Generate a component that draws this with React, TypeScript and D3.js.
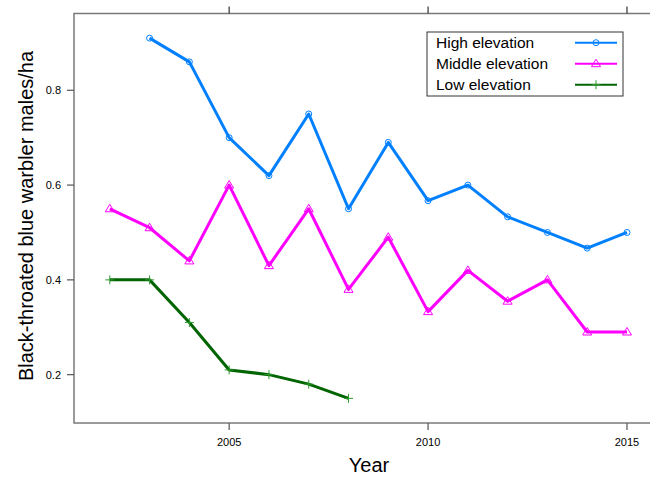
import React, { useEffect, useRef } from "react";
import * as d3 from "d3";

// observed density, males per ha
const highYears = [2003, 2004, 2005, 2006, 2007, 2008, 2009, 2010, 2011, 2012, 2013, 2014, 2015];
const highValues = [0.91, 0.86, 0.70, 0.62, 0.75, 0.55, 0.69, 0.567, 0.60, 0.533, 0.50, 0.467, 0.50];

const middleYears = [2002, 2003, 2004, 2005, 2006, 2007, 2008, 2009, 2010, 2011, 2012, 2013, 2014, 2015];
const middleValues = [0.55, 0.51, 0.44, 0.60, 0.43, 0.55, 0.38, 0.49, 0.333, 0.42, 0.355, 0.40, 0.29, 0.29];

const lowYears = [2002, 2003, 2004, 2005, 2006, 2007, 2008];
const lowValues = [0.40, 0.40, 0.31, 0.21, 0.20, 0.18, 0.15];

const xTicks = [2005, 2010, 2015];
const yTicks = [0.2, 0.4, 0.6, 0.8];
const seriesNames = ["High elevation", "Middle elevation", "Low elevation"];

const width = 650;
const height = 477;

function App() {
  const ref = useRef<SVGSVGElement | null>(null);

  useEffect(() => {
    drawChart();
  }, []);

  function drawChart() {
    const svg = d3.select(ref.current);
    svg.selectAll("*").remove();

    const left = 74, top = 13.5, right = 662, bottom = 423;
    const font = "'Liberation Sans', Arial, sans-serif";

    const x = d3.scaleLinear().domain([2001.1, 2015.88]).range([left, right]);
    const y = d3.scaleLinear().domain([0.098, 0.962]).range([bottom, top]);

    const series = [
      { name: seriesNames[0], years: highYears, values: highValues, color: "#0080ff", symbol: "circle" },
      { name: seriesNames[1], years: middleYears, values: middleValues, color: "#ff00ff", symbol: "triangle" },
      { name: seriesNames[2], years: lowYears, values: lowValues, color: "#006400", symbol: "plus" },
    ];

    //panel box
    svg.append("rect")
      .attr("x", left).attr("y", top)
      .attr("width", right - left).attr("height", bottom - top)
      .attr("fill", "none").attr("stroke", "#7a7a7a").attr("stroke-width", 1.5);

    //x ticks, bottom and top
    const xg = svg.append("g");
    xTicks.forEach((t) => {
      xg.append("line").attr("x1", x(t)).attr("x2", x(t)).attr("y1", bottom).attr("y2", bottom + 7)
        .attr("stroke", "#555").attr("stroke-width", 1.2);
      xg.append("line").attr("x1", x(t)).attr("x2", x(t)).attr("y1", top).attr("y2", top - 7)
        .attr("stroke", "#333").attr("stroke-width", 1.2);
      xg.append("text").attr("x", x(t)).attr("y", 446).attr("text-anchor", "middle")
        .style("font-family", font).style("font-size", "11px").attr("fill", "#000").text(t);
    });

    //y ticks
    const yg = svg.append("g");
    yTicks.forEach((t) => {
      yg.append("line").attr("x1", left).attr("x2", left - 7).attr("y1", y(t)).attr("y2", y(t))
        .attr("stroke", "#555").attr("stroke-width", 1.2);
      yg.append("text").attr("x", 61).attr("y", y(t) + 4).attr("text-anchor", "end")
        .style("font-family", font).style("font-size", "11px").attr("fill", "#000").text(t.toFixed(1));
    });

    //axis titles
    svg.append("text").attr("x", 369).attr("y", 472).attr("text-anchor", "middle")
      .style("font-family", font).style("font-size", "20px").text("Year");
    svg.append("text").attr("transform", `translate(33, 216) rotate(-90)`).attr("text-anchor", "middle")
      .style("font-family", font).style("font-size", "20px").text("Black-throated blue warbler males/ha");

    const line = d3.line<[number, number]>().x((d) => x(d[0])).y((d) => y(d[1]));

    function drawSymbol(g: any, type: string, cx: number, cy: number, color: string) {
      if (type === "circle") {
        g.append("circle").attr("cx", cx).attr("cy", cy).attr("r", 3)
          .attr("fill", "none").attr("stroke", color).attr("stroke-width", 1);
      } else if (type === "triangle") {
        g.append("path")
          .attr("d", `M${cx},${cy - 4.5}L${cx + 4.5},${cy + 3}L${cx - 4.5},${cy + 3}Z`)
          .attr("fill", "none").attr("stroke", color).attr("stroke-width", 1);
      } else {
        g.append("path")
          .attr("d", `M${cx - 4.5},${cy}H${cx + 4.5}M${cx},${cy - 4.5}V${cy + 4.5}`)
          .attr("stroke", "#2e9a2e").attr("stroke-width", 1);
      }
    }

    series.forEach((s) => {
      const pts: [number, number][] = s.years.map((yr, i) => [yr, s.values[i]]);
      const g = svg.append("g");
      g.append("path").attr("d", line(pts)).attr("fill", "none")
        .attr("stroke", s.color).attr("stroke-width", 3).attr("stroke-linejoin", "round");
      pts.forEach((p) => drawSymbol(g, s.symbol, x(p[0]), y(p[1]), s.color));
    });

    //legend
    const leg = svg.append("g");
    leg.append("rect").attr("x", 427).attr("y", 32).attr("width", 196).attr("height", 64)
      .attr("fill", "#fff").attr("stroke", "#333").attr("stroke-width", 1);
    series.forEach((s, i) => {
      const cy = 42.7 + i * 21;
      leg.append("text").attr("x", 436).attr("y", cy + 5.5)
        .style("font-family", font).style("font-size", "15.5px").attr("fill", "#000").text(s.name);
      leg.append("line").attr("x1", 575).attr("x2", 617).attr("y1", cy).attr("y2", cy)
        .attr("stroke", s.color).attr("stroke-width", 2);
      drawSymbol(leg, s.symbol, 596, cy, s.color);
    });
  }

  return <svg ref={ref} width={width} height={height} style={{ display: "block", position: "absolute", left: 0, top: 0 }} />;
}

export default App;
